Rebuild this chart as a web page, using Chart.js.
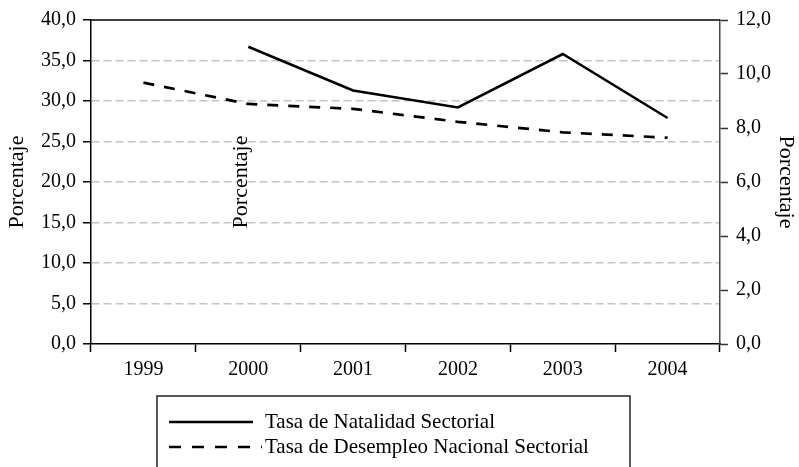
<!DOCTYPE html>
<html>
<head>
<meta charset="utf-8">
<script src="https://cdn.jsdelivr.net/npm/chart.js@4/dist/chart.umd.min.js"></script>
<style>
  html, body { margin: 0; padding: 0; background: #fff; }
  canvas { display: block; }
</style>
</head>
<body>
<canvas id="c" width="799" height="467"></canvas>
<script>
// Años y series (porcentajes)
const years = ['1999', '2000', '2001', '2002', '2003', '2004'];
const natalidad = [null, 36.7, 31.3, 29.2, 35.8, 27.9];      // eje izquierdo
const desempleo = [9.68, 8.89, 8.71, 8.23, 7.84, 7.64];      // eje derecho
const seriesLabels = ['Tasa de Natalidad Sectorial', 'Tasa de Desempleo Nacional Sectorial'];
const axisTitle = 'Porcentaje';

const FONT = '"Liberation Serif", "Times New Roman", serif';
const fmt = v => Number(v).toFixed(1).replace('.', ',');

// Marco superior, rótulo suelto y leyenda recuadrada
const extras = {
  id: 'extras',
  afterDraw(chart) {
    const { ctx, chartArea: a } = chart;
    ctx.save();
    // línea superior del área de trazado
    ctx.strokeStyle = '#000';
    ctx.lineWidth = 1.5;
    ctx.beginPath();
    ctx.moveTo(a.left, a.top);
    ctx.lineTo(a.right, a.top);
    ctx.stroke();

    // rótulo vertical dentro del área
    ctx.fillStyle = '#000';
    ctx.font = '22px ' + FONT;
    ctx.textAlign = 'center';
    ctx.textBaseline = 'middle';
    ctx.translate(241, (a.top + a.bottom) / 2);
    ctx.rotate(-Math.PI / 2);
    ctx.fillText(axisTitle, 0, 0);
    ctx.restore();

    // leyenda
    ctx.save();
    const bx = 157, by = 396, bw = 473, bh = 80;
    ctx.strokeStyle = '#222';
    ctx.lineWidth = 1.5;
    ctx.strokeRect(bx, by, bw, bh);
    const rows = [422, 447];
    chart.data.datasets.forEach((ds, i) => {
      const y = rows[i];
      const dashed = !!ds.borderDash;
      ctx.strokeStyle = '#000';
      ctx.lineWidth = 2.5;
      ctx.setLineDash(dashed ? [12, 11] : []);
      ctx.beginPath();
      ctx.moveTo(169, y);
      ctx.lineTo(dashed ? 262 : 253, y);
      ctx.stroke();
      ctx.setLineDash([]);
      ctx.fillStyle = '#000';
      ctx.font = '21px ' + FONT;
      ctx.textAlign = 'left';
      ctx.textBaseline = 'middle';
      ctx.fillText(ds.label, 265, y);
    });
    ctx.restore();
  }
};

new Chart(document.getElementById('c'), {
  type: 'line',
  data: {
    labels: years,
    datasets: [
      {
        label: seriesLabels[0],
        data: natalidad,
        yAxisID: 'y',
        borderColor: '#000',
        borderWidth: 2.5,
        pointRadius: 0,
        tension: 0,
        fill: false
      },
      {
        label: seriesLabels[1],
        data: desempleo,
        yAxisID: 'y2',
        borderColor: '#000',
        borderWidth: 2.7,
        borderDash: [11, 10],
        pointRadius: 0,
        tension: 0,
        fill: false
      }
    ]
  },
  options: {
    responsive: false,
    animation: false,
    layout: { padding: { top: 17, left: 0, right: 0, bottom: 0 } },
    plugins: { legend: { display: false }, tooltip: { enabled: false } },
    scales: {
      x: {
        offset: true,
        grid: { offset: true, drawOnChartArea: false, tickLength: 8, tickColor: '#000', tickWidth: 1.5 },
        border: { color: '#000', width: 1.5 },
        ticks: { color: '#000', font: { family: FONT, size: 20 }, padding: 6, maxRotation: 0 },
        afterFit(s) { s.height = 123; }
      },
      y: {
        position: 'left',
        min: 0, max: 40,
        ticks: { stepSize: 5, color: '#000', font: { family: FONT, size: 20 }, padding: 7, callback: fmt },
        grid: {
          color: c => (c.tick && (c.tick.value === 0 || c.tick.value === 40)) ? 'rgba(0,0,0,0)' : '#c4c4c4',
          lineWidth: 1.5,
          tickLength: 8,
          tickColor: '#000',
          tickWidth: 1.5,
          tickBorderDash: []
        },
        border: { color: '#000', width: 1.5, dash: [8, 4] },
        title: { display: true, text: axisTitle, color: '#000', font: { family: FONT, size: 22 }, padding: { top: 4, bottom: 4 } },
        afterFit(s) { s.width = 91; }
      },
      y2: {
        position: 'right',
        min: 0, max: 12,
        ticks: { stepSize: 2, color: '#000', font: { family: FONT, size: 20 }, padding: 8, callback: fmt },
        grid: { drawOnChartArea: false, tickLength: 8, tickColor: '#333', tickWidth: 1.5 },
        border: { color: '#444', width: 1.5 },
        title: { display: true, text: axisTitle, color: '#000', font: { family: FONT, size: 22 }, padding: { top: 0, bottom: 0 } },
        afterFit(s) { s.width = 79; }
      }
    }
  },
  plugins: [extras]
});
</script>
</body>
</html>
